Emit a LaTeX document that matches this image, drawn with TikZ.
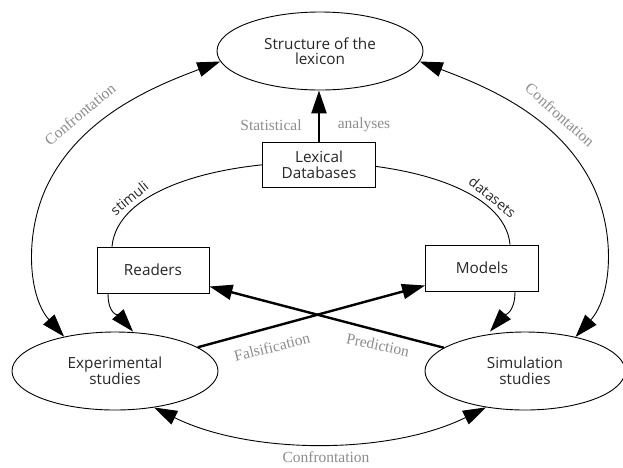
\documentclass[tikz,border=0pt]{standalone}
\usepackage{fontspec}
\setmainfont{Open Sans}
\newfontfamily\lblfont{Liberation Serif}
\usetikzlibrary{shapes.geometric,arrows.meta}
\begin{document}
\begin{tikzpicture}[x=1pt,y=-1pt,
  >={Triangle[length=23pt,width=15pt]},
  ell/.style={draw, ellipse, line width=0.9pt, minimum width=206pt, minimum height=78pt,
    inner sep=0pt, align=center, text=black!85, font=\fontsize{15.3}{15.5}\selectfont},
  box/.style={draw, rectangle, line width=0.9pt, fill=white, inner sep=0pt, align=center,
    text=black!85, font=\fontsize{15.3}{15.5}\selectfont},
  conn/.style={line width=0.9pt},
  boldconn/.style={line width=2.4pt},
  lbl/.style={font=\lblfont\fontsize{15.5}{17}\selectfont, text=black!45},
  arclbl/.style={font=\fontsize{14}{15}\selectfont, text=black!85}]
\useasboundingbox (0,0) rectangle (623,467);

\node[ell] (S) at (320,51) {Structure of the\\lexicon};
\node[box, minimum width=112pt, minimum height=46pt] (R) at (153,270) {Readers};
\node[box, minimum width=113pt, minimum height=46pt] (M) at (482,268) {Models};
\node[ell] (E) at (115,371) {Experimental\\studies};
\node[ell, minimum width=200pt] (Sim) at (525,371) {Simulation\\studies};

% inner arc behind the Lexical Databases box
\draw[conn] ([xshift=-41pt]R.north) .. controls +(10,-112) and +(-10,-110) .. ([xshift=28pt]M.north)
  node[arclbl, pos=0.14, sloped, above=1pt] (stim) {stimuli}
  node[arclbl, pos=0.86, sloped, above=1pt] (data) {datasets};

\node[box, minimum width=113pt, minimum height=45pt] (L) at (319,165) {Lexical\\Databases};

% Lexical Databases -> Structure
\draw[boldconn, ->] (L.north) -- (L.north |- S.south);

% readers/models -> studies
\draw[conn, ->] ([xshift=-45pt]R.south) .. controls +(0,22) and +(-14,-16) .. ([xshift=18pt]E.north);
\draw[conn, ->] ([xshift=33pt]M.south) .. controls +(0,22) and +(14,-16) .. ([xshift=-35pt]Sim.north);

% confrontation arcs
\coordinate (lw) at (50,180);
\coordinate (rw) at (590,180);
\draw[conn, <->] (S.186) .. controls (152,87) and (84,116) .. (lw)
  .. controls (24,228) and (27,295) .. (E.146);
\draw[conn, <->] (S.-6) .. controls (488,87) and (556,116) .. (rw)
  .. controls (616,228) and (613,295) .. (Sim.34);
\draw[conn, <->] (E.-43) .. controls (250,455) and (390,455) .. (Sim.223);

% crossing arrows
\draw[boldconn, ->] (E.16) -- ([yshift=6pt]M.south west);
\draw[boldconn, ->] (Sim.164) -- ([yshift=7pt]R.south east);

% gray labels
\node[lbl] (stat) at (271,125) {Statistical};
\node[lbl] (ana) at (364,125) {analyses};
\node[lbl, rotate=40] (cl) at (80,114) {Confrontation};
\node[lbl, rotate=-42] (cr) at (560,115) {Confrontation};
\node[lbl] (cb) at (326,457) {Confrontation};
\node[lbl, rotate=14] (fa) at (272,347) {Falsification};
\node[lbl, rotate=-12] (pr) at (378,345) {Prediction};
\end{tikzpicture}
\end{document}
